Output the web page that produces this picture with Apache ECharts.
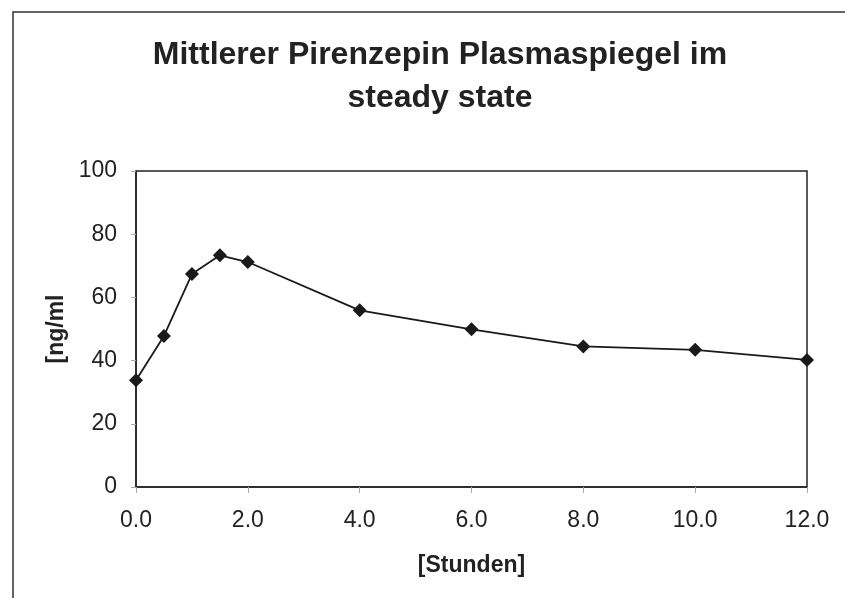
<!DOCTYPE html>
<html>
<head>
<meta charset="utf-8">
<script src="https://cdn.jsdelivr.net/npm/echarts@6/dist/echarts.min.js"></script>
<style>
  html, body { margin: 0; padding: 0; background: #fff; }
  #chart { width: 845px; height: 598px; }
</style>
</head>
<body>
<div id="chart"></div>
<script>
	// Zeit in Stunden, mittlerer Plasmaspiegel in ng/ml
	const hours = [0, 0.5, 1, 1.5, 2, 4, 6, 8, 10, 12];
	const plasma = [33.8, 47.8, 67.4, 73.3, 71.2, 55.9, 49.9, 44.5, 43.4, 40.2];
	const titleLines = ["Mittlerer Pirenzepin Plasmaspiegel im", "steady state"];
	const xName = "[Stunden]";
	const yName = "[ng/ml";

	const FONT = "Liberation Sans, Arial, sans-serif";
	const chart = echarts.init(document.getElementById("chart"));

	chart.setOption({
		backgroundColor: "#fff",
		animation: false,
		title: {
			text: titleLines.join("\n"),
			left: 435,
			top: 29,
			textAlign: "center",
			textStyle: {
				fontFamily: FONT,
				fontSize: 32,
				fontWeight: "bold",
				color: "#222",
				lineHeight: 43,
			},
		},
		graphic: [{
			type: "rect",
			shape: { x: 13, y: 12, width: 900, height: 700 },
			style: { fill: "none", stroke: "#333", lineWidth: 1.5 },
			silent: true,
		}],
		grid: {
			left: 136,
			top: 171,
			width: 671,
			height: 316,
			show: true,
			borderColor: "#222",
			borderWidth: 1.5,
			backgroundColor: "#fff",
		},
		xAxis: {
			type: "value",
			min: 0,
			max: 12,
			interval: 2,
			name: xName,
			nameLocation: "middle",
			nameGap: 67,
			nameTextStyle: { fontFamily: FONT, fontSize: 23, fontWeight: "bold", color: "#222" },
			axisLine: { show: true, lineStyle: { color: "#222", width: 1.5 } },
			axisTick: { show: true, length: 6, lineStyle: { color: "#aaa" } },
			axisLabel: {
				fontFamily: FONT,
				fontSize: 23,
				color: "#222",
				margin: 22,
				formatter: (v) => v.toFixed(1),
			},
			splitLine: { show: false },
		},
		yAxis: {
			type: "value",
			min: 0,
			max: 100,
			interval: 20,
			name: yName,
			nameLocation: "middle",
			nameRotate: 90,
			nameGap: 68,
			nameTextStyle: { fontFamily: FONT, fontSize: 23, fontWeight: "bold", color: "#222" },
			axisLine: { show: true, lineStyle: { color: "#222", width: 1.5 } },
			axisTick: { show: true, length: 5, lineStyle: { color: "#aaa" } },
			axisLabel: { fontFamily: FONT, fontSize: 23, color: "#222", margin: 19 },
			splitLine: { show: false },
		},
		series: [{
			type: "line",
			data: hours.map((h, i) => [h, plasma[i]]),
			symbol: "diamond",
			symbolSize: 14,
			itemStyle: { color: "#1a1a1a" },
			lineStyle: { color: "#1a1a1a", width: 1.8 },
		}],
	});
</script>
</body>
</html>
